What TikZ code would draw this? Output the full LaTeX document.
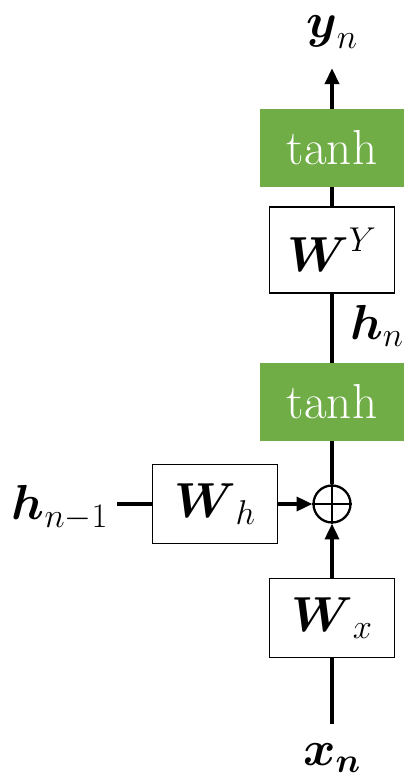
\RequirePackage{fix-cm}
\documentclass[tikz,border=0pt]{standalone}
\usepackage{amsmath,amssymb}
\usepackage{tikz}
\usetikzlibrary{positioning,arrows.meta}
\definecolor{actgreen}{HTML}{70AD47}

\begin{document}
\begin{tikzpicture}[x=0.02cm, y=-0.02cm,
        box/.style={draw, rectangle, minimum width=2.5cm, minimum height=1.58cm, line width=1pt, fill=white, font=\fontsize{28}{32}\selectfont},
        act/.style={rectangle, fill=actgreen, text=white, minimum width=2.88cm, minimum height=1.56cm, font=\fontsize{28}{32}\selectfont},
        lbl/.style={font=\fontsize{28}{32}\selectfont, inner sep=1pt},
        line/.style={line width=1.9pt},
        arrow/.style={-{Triangle[length=9pt,width=8pt]}, line width=1.9pt}
    ]
        \useasboundingbox (0,0) rectangle (404,783);

        % output side
        \node[act] (tanhY) at (332,148) {tanh};
        \node[box, minimum height=1.72cm] (WY) at (332,250) {$\boldsymbol{W}^{Y}$};
        \node[lbl] (yn) at (332,32) {$\boldsymbol{y}_n$};

        % hidden state
        \node[act] (tanhH) at (332,402) {tanh};
        \node[lbl] (hn) at (377,326) {$\boldsymbol{h}_n$};
        \node[circle, draw, line width=1.3pt, minimum size=0.74cm, inner sep=0pt] (sum) at (332,504) {};
        \draw[line width=0.7pt] (sum.north) -- (sum.south) (sum.west) -- (sum.east);

        % inputs
        \node[box] (Wh) at (215,504) {$\boldsymbol{W}_{h}$};
        \node[lbl] (hprev) at (60,508) {$\boldsymbol{h}_{n-1}$};
        \node[box] (Wx) at (332,618) {$\boldsymbol{W}_{x}$};
        \node[lbl] (xn) at (332,758) {$\boldsymbol{x}_{\boldsymbol{n}}$};

        \draw[arrow, shorten >=10pt] (tanhY) -- (yn);
        \draw[line] (WY) -- (tanhY);
        \draw[line] (tanhH) -- (WY);
        \draw[line] (sum) -- (tanhH);
        \draw[arrow] (Wh) -- (sum);
        \draw[arrow] (Wx) -- (sum);
        \draw[line] ([xshift=4pt]hprev.east |- Wh.west) -- (Wh.west);
        \draw[line, shorten >=10pt] (Wx) -- (xn);
    \end{tikzpicture}
\end{document}
